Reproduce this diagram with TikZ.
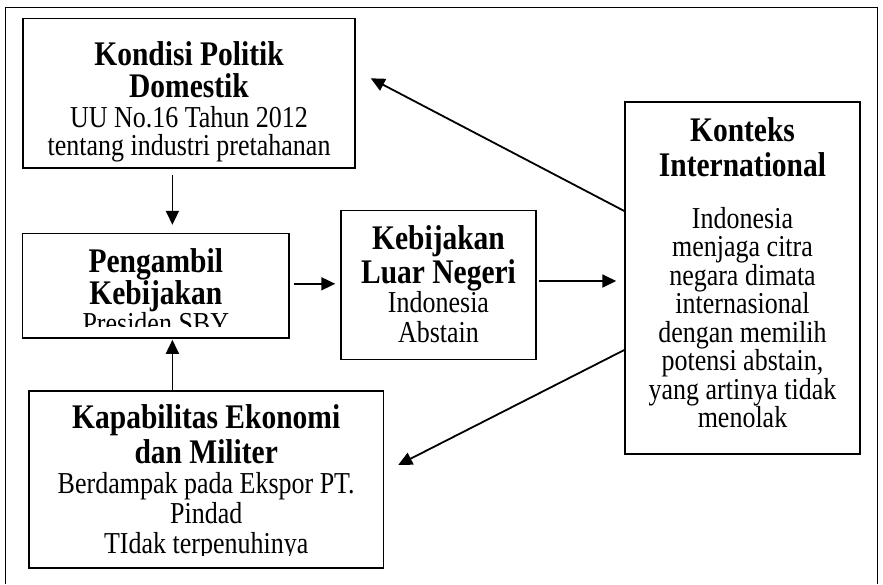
\documentclass[tikz,border=0pt]{standalone}
\usepackage{fontspec}
\setmainfont{Liberation Serif}[FakeStretch=0.855]
\usepackage{tikz}
\usetikzlibrary{shapes,arrows.meta,positioning,calc}
\newcommand{\isifont}[1]{\fontsize{30.4}{#1}\selectfont\lineskiplimit-50pt\relax}
\newcommand{\judul}[1]{{\fontsize{34.5}{34}\selectfont\bfseries #1}}
\tikzstyle{line} = [draw, line width=1.8pt, -{Triangle[length=14pt,width=13pt]}]
\tikzstyle{kotak} = [draw, line width=1.5pt, inner sep=0pt]
\tikzstyle{isi} = [align=center, inner sep=0pt, font={\isifont{30}}]

\begin{document}
\begin{tikzpicture}[x=1pt, y=-1pt]
		\useasboundingbox (0,0) rectangle (883,584);
		\draw [line width=1.5pt] (5.5,584) -- (5.5,7.5) -- (877.5,7.5) -- (877.5,584);
		\node [kotak, minimum width=332pt, minimum height=149.5pt] (kondisi) at (189,93.3) {};
		\node [kotak, minimum width=266.5pt, minimum height=104.5pt] (pengambil) at (155.8,285.8) {};
		\node [kotak, minimum width=195pt, minimum height=149pt] (kebijakan) at (438.5,285) {};
		\node [kotak, minimum width=235pt, minimum height=352pt] (konteks) at (742.5,278) {};
		\node [kotak, minimum width=354.5pt, minimum height=177pt] (kapabilitas) at (206.2,479.5) {};
		\node [isi, below=23.6pt of kondisi.north] (kondisiteks) {\judul{Kondisi Politik}\\[2pt] \judul{Domestik}\\ UU No.16 Tahun 2012\\[-2pt] tentang industri pretahanan};
		\node [isi, below=15.5pt of kebijakan.north] (kebijakanteks) {\judul{Kebijakan}\\[4pt] \judul{Luar Negeri}\\[-1pt] Indonesia\\ Abstain};
		\node [isi, below=16pt of konteks.north, font={\isifont{28.5}}] (kontekteks) {\judul{Konteks}\\[7pt] \judul{International}\\[23pt] Indonesia\\ menjaga citra\\ negara dimata\\ internasional\\ dengan memilih\\ potensi abstain,\\ yang artinya tidak\\ menolak};
		\begin{scope}
				\clip (pengambil.north west) rectangle ([yshift=12pt]pengambil.south east);
				\node [isi, below=16pt of pengambil.north] (pengambilteks) {\judul{Pengambil}\\[2pt] \judul{Kebijakan}\\[-1pt] Presiden SBY};
		\end{scope}
		\begin{scope}
				\clip (kapabilitas.north west) rectangle ([yshift=13.5pt]kapabilitas.south east);
				\node [isi, below=14.5pt of kapabilitas.north] (kapabilitasteks) {\judul{Kapabilitas Ekonomi}\\[5pt] \judul{dan Militer}\\ Berdampak pada Ekspor PT.\\ Pindad\\ TIdak terpenuhinya};
		\end{scope}
		\coordinate (tengah) at ($(kondisi.south)!.5!(pengambil.north)$);
		\path [line, shorten <=6pt, shorten >=8pt] (tengah |- kondisi.south) -- (tengah |- pengambil.north);
		\path [line, shorten >=1pt] (tengah |- kapabilitas.north) -- (tengah |- pengambil.south);
		\path [line, shorten <=4pt, shorten >=5pt] ([yshift=2pt]pengambil.east) -- ([yshift=2pt]pengambil.east -| kebijakan.west);
		\path [line, shorten <=2pt, shorten >=8pt] ([yshift=4pt]kebijakan.east) -- ([yshift=4pt]kebijakan.east -| konteks.west);
		\path [line] ([yshift=67pt]konteks.west) -- ([xshift=15pt,yshift=15pt]kondisi.east);
		\path [line] ([yshift=-72pt]konteks.west) -- ([xshift=14pt,yshift=14.5pt]kapabilitas.east);
\end{tikzpicture}
\end{document}
